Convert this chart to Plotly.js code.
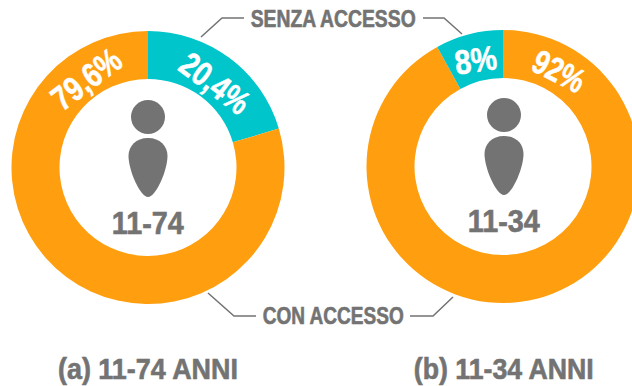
<!DOCTYPE html>
<html><head><meta charset="utf-8">
<script src="https://cdn.plot.ly/plotly-3.0.1.min.js"></script>
<style>html,body{margin:0;padding:0;background:#fff;overflow:hidden;width:632px;height:386px}</style>
</head><body><div id="chart"></div>
<script>
const categories = ["SENZA ACCESSO", "CON ACCESSO"];
const valuesA = [20.4, 79.6];
const valuesB = [8, 92];
const labelsA = ["20,4%", "79,6%"];
const labelsB = ["8%", "92%"];
const groupLabels = ["11-74", "11-34"];
const panelTitles = ["(a) 11-74 ANNI", "(b) 11-34 ANNI"];
const TEAL = "#00C5CB", ORANGE = "#FF9E0E", GRAY = "#737373";
const FONT = "'Liberation Sans',sans-serif";

const W = 660, H = 386, R = 136.5;
const px = x => x / W, py = y => 1 - y / H;
const donut = (cats, vals, colors, cx, cy) => ({
  type: "pie", labels: cats, values: vals, sort: false, direction: "clockwise", rotation: 0,
  hole: 88.5 / R, textinfo: "none", hoverinfo: "label+percent", showlegend: false,
  marker: {colors, line: {width: 0}},
  domain: {x: [px(cx - R), px(cx + R)], y: [py(cy + R), py(cy - R)]}
});
const traces = [
  donut(categories, valuesA, [TEAL, ORANGE], 148, 167.5),
  donut([categories[1], categories[0]], [valuesB[1], valuesB[0]], [ORANGE, TEAL], 503, 166.5)
];
const fitted = [];
const txt = (text, x, y, size, color, angle, len) => {
  fitted.push(len);
  return {
    text, x: px(x), y: py(y), xref: "paper", yref: "paper", xanchor: "center", yanchor: "middle",
    showarrow: false, textangle: angle || 0,
    font: {family: FONT, size, color, weight: 700}
  };
};
const annotations = [
  txt(labelsA[0], 215, 83, 34, "#fff", 37, 78),
  txt(labelsA[1], 86, 79, 34, "#fff", -37, 78),
  txt(labelsB[0], 475, 60, 34, "#fff", -8, 42),
  txt(labelsB[1], 559, 71, 34, "#fff", 27, 54),
  txt(groupLabels[0], 148, 223, 31, GRAY, 0, 72),
  txt(groupLabels[1], 504, 221, 31, GRAY, 0, 72),
  txt(categories[0], 333.5, 19, 23, GRAY, 0, 165),
  txt(categories[1], 333.5, 316, 23, GRAY, 0, 141),
  txt(panelTitles[0], 148, 369, 29, GRAY, 0, 180),
  txt(panelTitles[1], 504, 369, 29, GRAY, 0, 180)
];
const poly = pts => "M" + pts.map(p => px(p[0]) + "," + py(p[1])).join("L");
const leader = pts => ({type: "path", xref: "paper", yref: "paper", path: poly(pts), line: {color: GRAY, width: 1.5}});
const head = (cx, cy) => ({type: "circle", xref: "paper", yref: "paper",
  x0: px(cx - 17), x1: px(cx + 17), y0: py(cy + 17), y1: py(cy - 17), fillcolor: GRAY, line: {width: 0}});
const body = (cx, top) => {
  const P = (dx, dy) => px(cx + dx) + "," + py(top + dy);
  return {type: "path", xref: "paper", yref: "paper", fillcolor: GRAY, line: {width: 0},
    path: "M" + P(0, 0) + "C" + P(12, 0) + " " + P(19.5, 8) + " " + P(19.5, 18) +
      "C" + P(19.5, 32) + " " + P(8, 59) + " " + P(0, 59) +
      "C" + P(-8, 59) + " " + P(-19.5, 32) + " " + P(-19.5, 18) +
      "C" + P(-19.5, 8) + " " + P(-12, 0) + " " + P(0, 0) + "Z"};
};
const shapes = [
  leader([[201, 37], [222, 18], [244, 18]]),
  leader([[423, 18], [444, 18], [462, 34]]),
  leader([[208, 293], [234, 316], [256, 316]]),
  leader([[410, 316], [433, 316], [453, 297]]),
  head(148, 117), body(148, 138),
  head(504, 115), body(504, 136)
];
Plotly.newPlot("chart", traces, {
  width: W, height: H, margin: {l: 0, r: 0, t: 0, b: 0},
  paper_bgcolor: "#fff", plot_bgcolor: "#fff", showlegend: false, annotations, shapes
}, {displayModeBar: false, responsive: false, staticPlot: true}).then(gd => {
  gd.querySelectorAll(".annotation-text").forEach((el, i) => {
    el.setAttribute("lengthAdjust", "spacingAndGlyphs");
    el.setAttribute("textLength", fitted[i]);
    el.style.stroke = annotations[i].font.color;
    el.style.strokeWidth = "0.6px";
  });
});
</script></body></html>
